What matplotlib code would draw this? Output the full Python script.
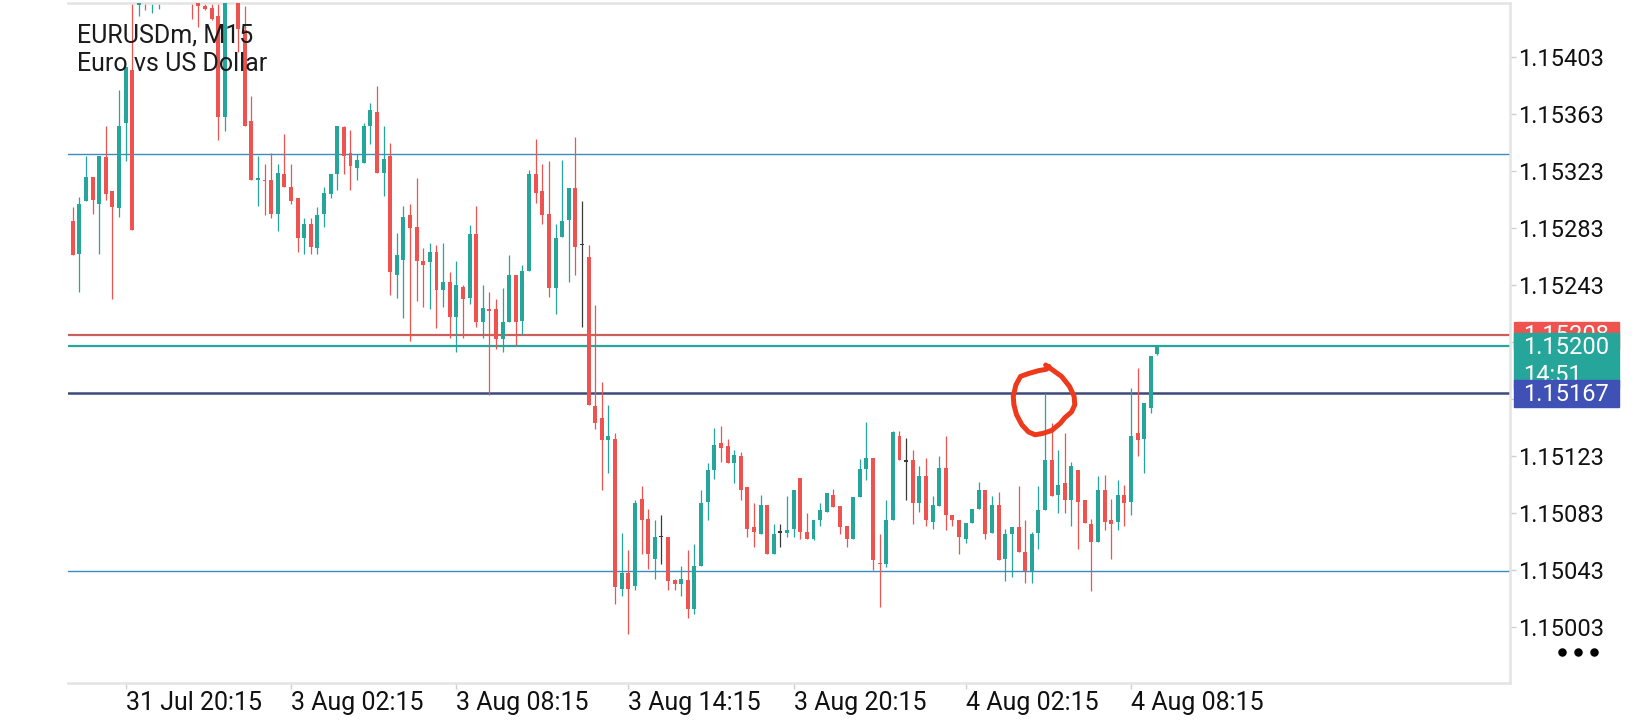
import numpy as np
import matplotlib
matplotlib.use('Agg')
import matplotlib.pyplot as plt
import matplotlib.transforms as mtransforms
from matplotlib.patches import Rectangle

plt.rcParams['font.family'] = ['Roboto', 'DejaVu Sans']

symbol = 'EURUSDm, M15'
description = 'Euro vs US Dollar'

# M15 candles (index 0 = left-most bar)
opens = [1.15288, 1.15265, 1.15302, 1.15319, 1.15300, 1.15333, 1.15309, 1.15297, 1.15357, 1.15394,
         1.15440, 1.15458, 1.15452, 1.15465, 1.15474, 1.15486, 1.15473, 1.15481, 1.15457, 1.15446,
         1.15439, 1.15438, 1.15432, 1.15361, 1.15452, 1.15449, 1.15422, 1.15358, 1.15317, 1.15317,
         1.15317, 1.15293, 1.15321, 1.15312, 1.15304, 1.15276, 1.15286, 1.15269, 1.15293, 1.15307,
         1.15321, 1.15354, 1.15336, 1.15325, 1.15329, 1.15355, 1.15365, 1.15322, 1.15334, 1.15250,
         1.15261, 1.15292, 1.15284, 1.15260, 1.15259, 1.15266, 1.15240, 1.15245, 1.15221, 1.15242,
         1.15234, 1.15279, 1.15217, 1.15226, 1.15226, 1.15205, 1.15217, 1.15250, 1.15218, 1.15253,
         1.15321, 1.15309, 1.15293, 1.15241, 1.15277, 1.15289, 1.15311, 1.15271, 1.15263, 1.15158,
         1.15150, 1.15134, 1.15135, 1.15030, 1.15041, 1.15032, 1.15093, 1.15079, 1.15051, 1.15066,
         1.15066, 1.15036, 1.15033, 1.15036, 1.15016, 1.15046, 1.15091, 1.15113, 1.15132, 1.15130,
         1.15118, 1.15123, 1.15101, 1.15073, 1.15068, 1.15089, 1.15054, 1.15069, 1.15069, 1.15072,
         1.15108, 1.15070, 1.15065, 1.15078, 1.15084, 1.15096, 1.15088, 1.15074, 1.15065, 1.15094,
         1.15114, 1.15122, 1.15048, 1.15047, 1.15078, 1.15137, 1.15119, 1.15120, 1.15090, 1.15109,
         1.15077, 1.15088, 1.15115, 1.15082, 1.15078, 1.15065, 1.15076, 1.15086, 1.15099, 1.15069,
         1.15089, 1.15051, 1.15068, 1.15073, 1.15056, 1.15042, 1.15069, 1.15085, 1.15120, 1.15096,
         1.15104, 1.15092, 1.15113, 1.15092, 1.15075, 1.15063, 1.15099, 1.15078, 1.15077, 1.15096,
         1.15091, 1.15139, 1.15135, 1.15157, 1.15195]
highs = [1.15298, 1.15305, 1.15334, 1.15319, 1.15334, 1.15355, 1.15309, 1.15380, 1.15396, 1.15448,
         1.15470, 1.15476, 1.15470, 1.15482, 1.15492, 1.15498, 1.15489, 1.15494, 1.15466, 1.15458,
         1.15450, 1.15446, 1.15446, 1.15456, 1.15463, 1.15455, 1.15439, 1.15376, 1.15334, 1.15328,
         1.15336, 1.15328, 1.15349, 1.15328, 1.15304, 1.15290, 1.15290, 1.15298, 1.15312, 1.15321,
         1.15355, 1.15355, 1.15352, 1.15335, 1.15357, 1.15371, 1.15383, 1.15355, 1.15343, 1.15280,
         1.15299, 1.15300, 1.15318, 1.15269, 1.15273, 1.15271, 1.15273, 1.15252, 1.15260, 1.15243,
         1.15285, 1.15299, 1.15243, 1.15238, 1.15233, 1.15241, 1.15264, 1.15250, 1.15257, 1.15324,
         1.15346, 1.15328, 1.15330, 1.15286, 1.15331, 1.15311, 1.15347, 1.15302, 1.15271, 1.15229,
         1.15175, 1.15159, 1.15139, 1.15069, 1.15057, 1.15092, 1.15102, 1.15086, 1.15078, 1.15082,
         1.15066, 1.15037, 1.15046, 1.15057, 1.15061, 1.15099, 1.15118, 1.15143, 1.15144, 1.15135,
         1.15127, 1.15126, 1.15101, 1.15090, 1.15096, 1.15089, 1.15075, 1.15075, 1.15095, 1.15099,
         1.15108, 1.15083, 1.15078, 1.15090, 1.15097, 1.15100, 1.15088, 1.15074, 1.15094, 1.15121,
         1.15147, 1.15122, 1.15068, 1.15092, 1.15141, 1.15141, 1.15136, 1.15127, 1.15116, 1.15122,
         1.15095, 1.15123, 1.15137, 1.15082, 1.15078, 1.15076, 1.15086, 1.15105, 1.15099, 1.15095,
         1.15098, 1.15072, 1.15073, 1.15102, 1.15078, 1.15070, 1.15102, 1.15167, 1.15146, 1.15127,
         1.15139, 1.15119, 1.15113, 1.15092, 1.15079, 1.15109, 1.15110, 1.15093, 1.15106, 1.15103,
         1.15171, 1.15185, 1.15160, 1.15193, 1.15201]
lows = [1.15264, 1.15238, 1.15302, 1.15293, 1.15265, 1.15303, 1.15233, 1.15291, 1.15330, 1.15282,
        1.15432, 1.15436, 1.15434, 1.15437, 1.15455, 1.15466, 1.15459, 1.15452, 1.15430, 1.15424,
        1.15436, 1.15429, 1.15345, 1.15351, 1.15444, 1.15407, 1.15355, 1.15317, 1.15299, 1.15292,
        1.15290, 1.15281, 1.15312, 1.15300, 1.15266, 1.15265, 1.15265, 1.15265, 1.15284, 1.15304,
        1.15310, 1.15321, 1.15310, 1.15317, 1.15329, 1.15342, 1.15322, 1.15306, 1.15236, 1.15234,
        1.15220, 1.15204, 1.15232, 1.15228, 1.15226, 1.15213, 1.15228, 1.15206, 1.15196, 1.15206,
        1.15230, 1.15214, 1.15206, 1.15166, 1.15198, 1.15196, 1.15217, 1.15201, 1.15208, 1.15253,
        1.15301, 1.15286, 1.15235, 1.15223, 1.15277, 1.15245, 1.15250, 1.15214, 1.15159, 1.15142,
        1.15099, 1.15111, 1.15019, 1.15025, 1.14998, 1.15029, 1.15054, 1.15044, 1.15037, 1.15047,
        1.15029, 1.15029, 1.15025, 1.15009, 1.15012, 1.15046, 1.15078, 1.15107, 1.15119, 1.15118,
        1.15104, 1.15092, 1.15066, 1.15059, 1.15068, 1.15054, 1.15054, 1.15059, 1.15066, 1.15066,
        1.15065, 1.15065, 1.15064, 1.15074, 1.15084, 1.15087, 1.15068, 1.15059, 1.15065, 1.15094,
        1.15106, 1.15043, 1.15017, 1.15045, 1.15078, 1.15120, 1.15092, 1.15075, 1.15084, 1.15074,
        1.15072, 1.15088, 1.15071, 1.15074, 1.15054, 1.15062, 1.15076, 1.15086, 1.15065, 1.15069,
        1.15050, 1.15035, 1.15038, 1.15056, 1.15034, 1.15034, 1.15058, 1.15085, 1.15095, 1.15083,
        1.15083, 1.15074, 1.15058, 1.15076, 1.15028, 1.15063, 1.15071, 1.15051, 1.15071, 1.15074,
        1.15082, 1.15123, 1.15111, 1.15153, 1.15194]
closes = [1.15264, 1.15300, 1.15319, 1.15303, 1.15334, 1.15307, 1.15298, 1.15355, 1.15396, 1.15282,
          1.15458, 1.15452, 1.15465, 1.15474, 1.15486, 1.15473, 1.15481, 1.15457, 1.15446, 1.15439,
          1.15437, 1.15430, 1.15361, 1.15452, 1.15449, 1.15423, 1.15355, 1.15317, 1.15318, 1.15316,
          1.15293, 1.15322, 1.15312, 1.15302, 1.15276, 1.15286, 1.15270, 1.15292, 1.15308, 1.15321,
          1.15355, 1.15334, 1.15327, 1.15331, 1.15355, 1.15366, 1.15322, 1.15332, 1.15252, 1.15264,
          1.15291, 1.15283, 1.15260, 1.15257, 1.15266, 1.15240, 1.15245, 1.15221, 1.15243, 1.15233,
          1.15279, 1.15217, 1.15227, 1.15225, 1.15205, 1.15217, 1.15250, 1.15217, 1.15253, 1.15321,
          1.15308, 1.15292, 1.15241, 1.15276, 1.15288, 1.15311, 1.15270, 1.15271, 1.15159, 1.15146,
          1.15134, 1.15137, 1.15031, 1.15041, 1.15030, 1.15090, 1.15078, 1.15054, 1.15066, 1.15066,
          1.15035, 1.15033, 1.15037, 1.15016, 1.15046, 1.15090, 1.15113, 1.15131, 1.15129, 1.15118,
          1.15124, 1.15099, 1.15072, 1.15070, 1.15089, 1.15054, 1.15068, 1.15069, 1.15071, 1.15099,
          1.15070, 1.15065, 1.15078, 1.15085, 1.15097, 1.15087, 1.15073, 1.15065, 1.15094, 1.15114,
          1.15122, 1.15050, 1.15047, 1.15078, 1.15140, 1.15120, 1.15119, 1.15090, 1.15109, 1.15078,
          1.15089, 1.15115, 1.15082, 1.15078, 1.15066, 1.15076, 1.15086, 1.15099, 1.15068, 1.15089,
          1.15050, 1.15068, 1.15073, 1.15056, 1.15042, 1.15068, 1.15085, 1.15120, 1.15095, 1.15103,
          1.15092, 1.15116, 1.15091, 1.15076, 1.15063, 1.15099, 1.15077, 1.15075, 1.15096, 1.15090,
          1.15137, 1.15134, 1.15160, 1.15193, 1.15200]

time_ticks = [8, 33, 58, 84, 109, 135, 160]
time_labels = ['31 Jul 20:15', '3 Aug 02:15', '3 Aug 08:15', '3 Aug 14:15',
               '3 Aug 20:15', '4 Aug 02:15', '4 Aug 08:15']
price_ticks = [1.15003, 1.15043, 1.15083, 1.15123, 1.15163, 1.15203,
               1.15243, 1.15283, 1.15323, 1.15363, 1.15403]

drawn_levels = [1.15335, 1.15042]     # user lines (thin blue)
ask_price = 1.15208
bid_price = 1.15200
alert_price = 1.15167
countdown = '14:51'

# hand drawn red loop around the wick that touches the alert line
loop_x = [147.1, 148.0, 149.5, 150.7, 151.4, 151.5, 151.0, 150.0, 149.3, 148.0, 146.7,
          145.5, 144.5, 143.5, 142.7, 142.3, 142.2, 142.6, 143.3, 144.5, 146.0, 147.2, 147.6]
loop_y = [1.15187, 1.15184, 1.15179, 1.15172, 1.15165, 1.15159, 1.15154, 1.15150, 1.15146,
          1.15141, 1.15139, 1.15138, 1.15140, 1.15145, 1.15152, 1.15159, 1.15165, 1.15173,
          1.15179, 1.15181, 1.15183, 1.15184, 1.15186]

UP = '#26A69A'
DOWN = '#EF5350'
DOJI = '#3a3a3a'
FRAME = '#e4e4e4'

o = np.array(opens)
h = np.array(highs)
l = np.array(lows)
c = np.array(closes)
x = np.arange(len(o))
colors = np.where(c > o, UP, np.where(c < o, DOWN, DOJI))

fig = plt.figure(figsize=(16.4, 7.2), dpi=100)
fig.patch.set_facecolor('white')
ax = fig.add_axes([68 / 1640, 37 / 720, 1442 / 1640, 680 / 720])
ax.set_xlim(-0.71, 217.3)
ax.set_ylim(1.149637, 1.154412)

# levels
for lv in drawn_levels:
    ax.axhline(lv, color='#3b8dbd', lw=1.0, zorder=1)
ax.axhline(ask_price, color='#c9605c', lw=1.6, zorder=1)
ax.axhline(bid_price, color=UP, lw=1.6, zorder=1)
ax.axhline(alert_price, color='#3d4a7c', lw=1.8, zorder=1)

# candles
ax.vlines(x, l, h, colors=colors, lw=0.9, zorder=2)
body_lo = np.minimum(o, c)
body_h = np.maximum(np.abs(c - o), 0.000012)
ax.bar(x, body_h, bottom=body_lo, width=0.6, color=colors, linewidth=0, zorder=3)

# hand drawn circle
ax.plot(loop_x, loop_y, color='#ee3a1c', lw=3.6, solid_joinstyle='round',
        solid_capstyle='round', zorder=6)

# frame
for side in ['top', 'right', 'bottom']:
    ax.spines[side].set_color(FRAME)
    ax.spines[side].set_linewidth(1.8)
ax.spines['left'].set_visible(False)

ax.yaxis.tick_right()
ax.set_yticks(price_ticks)
ax.set_yticklabels(['%.5f' % v for v in price_ticks])
ax.tick_params(axis='y', length=4.5, width=1, color='#cfcfcf', labelsize=17,
               pad=1.5, labelcolor='#111111')
ax.set_xticks(time_ticks)
ax.set_xticklabels(time_labels)
ax.tick_params(axis='x', length=4, width=1, color='#cfcfcf', labelsize=18,
               pad=1.5, labelcolor='#111111')
for lab in ax.get_xticklabels():
    lab.set_ha('left')

# title
ax.text(0.006, 0.9416, symbol, transform=ax.transAxes, fontsize=18,
        color='#1b1b1b', va='baseline', zorder=7)
ax.text(0.006, 0.9004, description, transform=ax.transAxes, fontsize=18,
        color='#1b1b1b', va='baseline', zorder=7)

# price boxes on the right scale
trans = mtransforms.blended_transform_factory(ax.transAxes, ax.transData)
y0, y1 = ax.get_ylim()
px = (y1 - y0) / 680.0
bx, bw, tx = 1.0028, 0.0728, 1.0088

ax.add_patch(Rectangle((bx, ask_price - 13.5 * px), bw, 27 * px, transform=trans,
                       color=DOWN, clip_on=False, zorder=8))
ax.text(tx, ask_price - 7.3 * px, '%.5f' % ask_price, transform=trans, fontsize=17,
        color='white', va='baseline', clip_on=False, zorder=9)
ax.add_patch(Rectangle((bx, bid_price - 42 * px), bw, 55.5 * px, transform=trans,
                       color=UP, clip_on=False, zorder=10))
ax.text(tx, bid_price - 7.3 * px, '%.5f' % bid_price, transform=trans, fontsize=17,
        color='white', va='baseline', clip_on=False, zorder=11)
ax.text(tx, bid_price - 36 * px, countdown, transform=trans, fontsize=17,
        color='white', va='baseline', clip_on=False, zorder=11)
ax.add_patch(Rectangle((bx, alert_price - 14 * px), bw, 27.5 * px, transform=trans,
                       color='#3f51b5', clip_on=False, zorder=12))
ax.text(tx, alert_price - 7.3 * px, '%.5f' % alert_price, transform=trans, fontsize=17,
        color='white', va='baseline', clip_on=False, zorder=13)

# menu dots
ax.scatter([1.0361, 1.0472, 1.0583], [0.0456] * 3, transform=ax.transAxes, s=26,
           color='black', clip_on=False, zorder=8)

fig.savefig('out.png', dpi=100, facecolor='white')
